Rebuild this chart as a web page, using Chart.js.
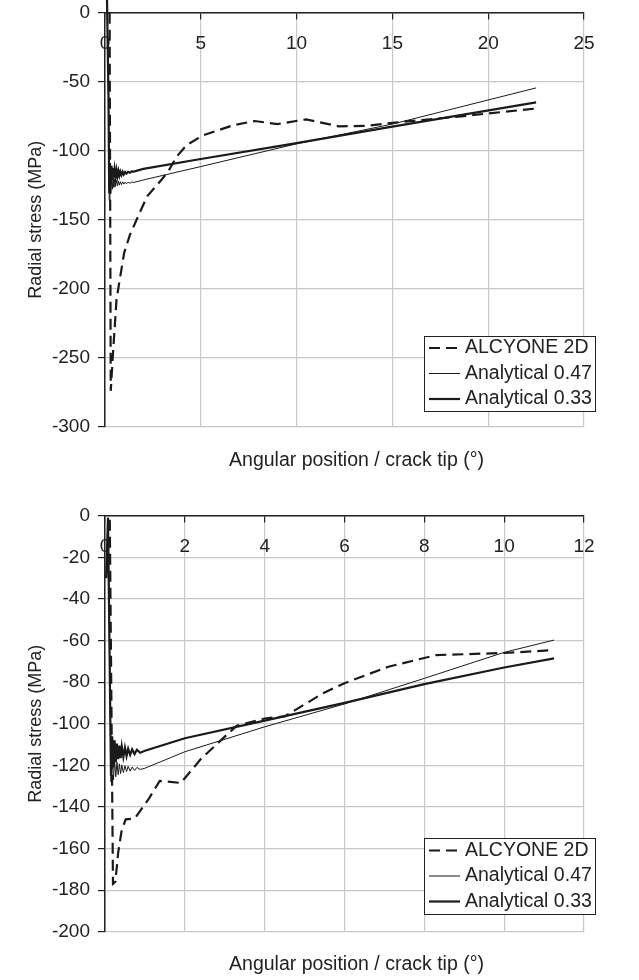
<!DOCTYPE html>
<html>
<head>
<meta charset="utf-8">
<script src="https://cdn.jsdelivr.net/npm/chart.js@4.4.1/dist/chart.umd.min.js"></script>
<style>
  html, body { margin: 0; padding: 0; background: #fff; }
  canvas { display: block; }
</style>
</head>
<body>
<canvas id="topChart" width="639" height="490"></canvas>
<canvas id="bottomChart" width="639" height="490"></canvas>
<script>
// legend labels, in legend order
const seriesLabels = ['ALCYONE 2D', 'Analytical 0.47', 'Analytical 0.33'];
const yTitle = 'Radial stress (MPa)';
const xTitle = 'Angular position / crack tip (\u00B0)';

// ---- top panel (0 - 22.5 deg) ----
const topAlcyoneX = [0.24, 0.3, 0.43, 0.6, 0.75, 1.0, 1.3, 1.65, 2.2, 2.95, 3.3, 3.73, 4.26, 5.1, 6.7, 7.8, 9.0, 10.5, 12.2, 13.6, 15, 18.3, 22.45];
const topAlcyoneY = [0, -274, -244, -208, -195, -174, -161, -150, -133, -121, -115, -104.5, -96, -89, -81.5, -78.5, -80.7, -77.3, -82.3, -82, -79.8, -75.5, -69.5];

const topAnaX = [0.1, 0.18, 0.22, 0.26, 0.3, 0.34, 0.38, 0.42, 0.46, 0.5, 0.55, 0.6, 0.65, 0.7, 0.75, 0.8, 0.86, 0.92, 0.98, 1.05, 1.12, 1.2, 1.3, 1.4, 1.5, 2, 5, 10, 15, 22.5];
const topAna047Y = [15, -60, -136, -117, -131, -119, -128, -120, -126.5, -121, -126, -121.5, -125.3, -122, -125, -122.4, -124.6, -122.6, -124.2, -122.8, -124, -122.8, -123.6, -122.7, -123, -121.2, -111.5, -95, -80.7, -54.5];
const topAna033Y = [15, -60, -130, -109, -125, -111, -121, -112.5, -119.5, -113.5, -119, -114, -118.5, -114.8, -118, -115.2, -117.6, -115.3, -117.2, -115.4, -116.6, -115.3, -116, -115, -115.2, -113.2, -106, -94.5, -82.5, -65];

// ---- bottom panel (0 - 11.25 deg) ----
const botAlcyoneX = [0.12, 0.2, 0.26, 0.33, 0.42, 0.52, 0.75, 1.1, 1.37, 1.9, 2.4, 2.9, 3.3, 4.0, 4.5, 5.46, 6.0, 7.1, 8.3, 10.0, 11.25];
const botAlcyoneY = [-2, -177, -176, -162, -151, -146, -145.5, -136, -127.5, -128.5, -117, -108, -101, -97.5, -96.5, -85.4, -80.5, -72.6, -67, -66, -64.6];

const botAnaX = [0.03, 0.075, 0.15, 0.18, 0.21, 0.24, 0.27, 0.3, 0.33, 0.36, 0.39, 0.42, 0.46, 0.5, 0.54, 0.58, 0.63, 0.68, 0.74, 0.8, 0.88, 1, 2, 4, 6, 8, 10, 11.25];
const botAna047Y = [-30, -1, -128, -116, -127, -117.5, -125.5, -118.5, -124.5, -119.3, -124, -119.8, -123.5, -120.2, -123, -120.5, -122.8, -120.8, -122.5, -121, -122, -121.4, -113.5, -101.5, -90.5, -78.2, -65.7, -59.8];
const botAna033Y = [-30, -1, -125, -106, -121, -108, -118.5, -109.5, -117, -110.5, -116.5, -111, -116, -111.5, -115.5, -112, -115, -112.3, -114.6, -112.5, -114, -113, -107, -98.5, -90, -81, -73, -68.6];

function pts(xs, ys) {
    return xs.map((x, i) => ({ x: x, y: ys[i] }));
}

Chart.defaults.font.family = '"Liberation Sans", Arial, Helvetica, sans-serif';
Chart.defaults.color = '#222';

// legend box drawn inside the plot
const boxLegend = {
    id: 'boxLegend',
    afterDatasetsDraw(chart, args, opts) {
        const ctx = chart.ctx;
        ctx.save();
        ctx.fillStyle = '#fff';
        ctx.fillRect(opts.left, opts.top, opts.width, opts.height);
        ctx.strokeStyle = '#222';
        ctx.lineWidth = 1;
        ctx.strokeRect(opts.left + 0.5, opts.top + 0.5, opts.width, opts.height);
        ctx.font = '19.5px "Liberation Sans", Arial, sans-serif';
        ctx.textBaseline = 'middle';
        chart.data.datasets.forEach((ds, i) => {
            const y = opts.top + opts.firstRow + i * opts.rowGap;
            ctx.beginPath();
            ctx.setLineDash(ds.borderDash || []);
            ctx.lineWidth = ds.borderWidth;
            ctx.strokeStyle = ds.borderColor;
            ctx.moveTo(opts.left + 5, y);
            ctx.lineTo(opts.left + 36, y);
            ctx.stroke();
            ctx.setLineDash([]);
            ctx.fillStyle = '#222';
            ctx.fillText(ds.label, opts.left + 41, y);
        });
        ctx.restore();
    }
};

// x axis caption under the plot
const xCaption = {
    id: 'xCaption',
    afterDraw(chart, args, opts) {
        const ctx = chart.ctx;
        ctx.save();
        ctx.font = '19.5px "Liberation Sans", Arial, sans-serif';
        ctx.fillStyle = '#222';
        ctx.textAlign = 'center';
        ctx.textBaseline = 'middle';
        ctx.fillText(opts.text, opts.x, opts.y);
        ctx.restore();
    }
};

function makeChart(id, alcyone, ana047, ana033, xMax, xStep, yMin, yStep, pad, legendPos, captionY) {
    return new Chart(document.getElementById(id), {
        type: 'line',
        data: {
            datasets: [
                {
                    label: seriesLabels[0],
                    data: alcyone,
                    borderColor: '#1a1a1a',
                    borderWidth: 2.2,
                    borderDash: [11, 6],
                    pointRadius: 0,
                    clip: false
                },
                {
                    label: seriesLabels[1],
                    data: ana047,
                    borderColor: '#1a1a1a',
                    borderWidth: 1,
                    pointRadius: 0,
                    clip: false
                },
                {
                    label: seriesLabels[2],
                    data: ana033,
                    borderColor: '#1a1a1a',
                    borderWidth: 2.2,
                    pointRadius: 0,
                    clip: false
                }
            ]
        },
        options: {
            responsive: false,
            animation: false,
            layout: { padding: pad },
            scales: {
                x: {
                    type: 'linear',
                    min: 0,
                    max: xMax,
                    position: { y: 0 },
                    afterFit: s => { s.height = 0; },
                    ticks: { stepSize: xStep, padding: 13.5, color: '#222', font: { size: 19 } },
                    grid: { color: '#c8c8c8', lineWidth: 1.2, tickLength: 6, tickColor: '#222', tickWidth: 1.2 },
                    border: { color: '#222', width: 1.5 }
                },
                y: {
                    min: yMin,
                    max: 0,
                    afterFit: s => { s.width = 105; s.paddingTop = 0; },
                    ticks: { stepSize: yStep, padding: 8, color: '#222', font: { size: 19 } },
                    grid: { color: '#c8c8c8', lineWidth: 1.2, tickLength: 7, tickColor: '#222', tickWidth: 1.2 },
                    border: { color: '#222', width: 1.5 },
                    title: {
                        display: true,
                        text: yTitle,
                        color: '#222',
                        font: { size: 18 },
                        padding: { top: 25, bottom: 0 }
                    }
                }
            },
            plugins: {
                legend: { display: false },
                tooltip: { enabled: false },
                boxLegend: legendPos,
                xCaption: { text: xTitle, x: 356.5, y: captionY }
            }
        },
        plugins: [boxLegend, xCaption]
    });
}

makeChart('topChart',
    pts(topAlcyoneX, topAlcyoneY), pts(topAnaX, topAna047Y), pts(topAnaX, topAna033Y),
    25, 5, -300, 50,
    { top: 12.7, right: 55, bottom: 63.3, left: 0 },
    { left: 424, top: 336, width: 171, height: 75, firstRow: 12, rowGap: 25.5 },
    461);

makeChart('bottomChart',
    pts(botAlcyoneX, botAlcyoneY), pts(botAnaX, botAna047Y), pts(botAnaX, botAna033Y),
    12, 2, -200, 20,
    { top: 25.7, right: 55, bottom: 48.3, left: 0 },
    { left: 424, top: 348, width: 171, height: 76, firstRow: 12.5, rowGap: 25.5 },
    475);
</script>
</body>
</html>
